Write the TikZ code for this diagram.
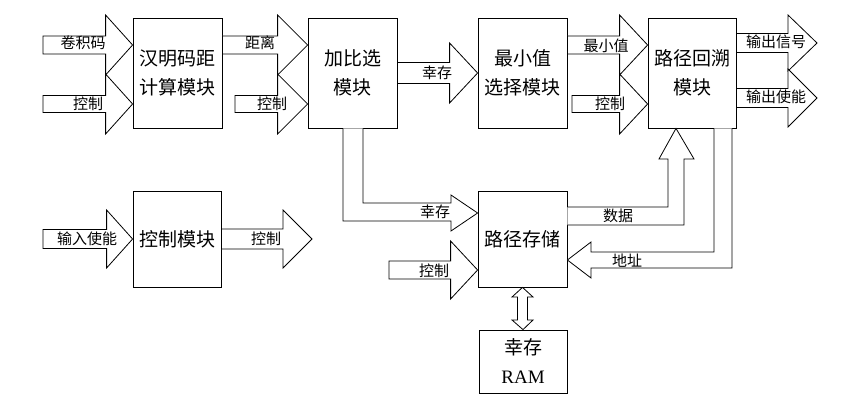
\documentclass[tikz,border=0pt]{standalone}
\usepackage{fontspec}
\setmainfont{Liberation Serif}
\newfontfamily\cjk{Noto Sans CJK SC}
\newfontfamily\latinserif{Liberation Serif}
\usetikzlibrary{calc}
\newcommand\rarr[5]{% #1 start, #2 tip, #3 body half, #4 head half, #5 head length
  \draw[barrow] let \p1=(#1), \p2=(#2) in
  (\x1,\y2+#3) -- (\x2-#5,\y2+#3) -- (\x2-#5,\y2+#4) -- (\x2,\y2) --
  (\x2-#5,\y2-#4) -- (\x2-#5,\y2-#3) -- (\x1,\y2-#3) -- cycle;}
\begin{document}
\begin{tikzpicture}[x=1pt,y=-1pt,
  box/.style={draw,line width=0.8pt,fill=white,font=\cjk\fontsize{19}{29}\selectfont,align=center,inner sep=0pt},
  barrow/.style={draw,line width=0.8pt,fill=white,line join=miter},
  lbl/.style={font=\cjk\fontsize{15}{15}\selectfont,inner sep=0pt}]
\useasboundingbox (0,0) rectangle (866,412);
\fill[white] (0,0) rectangle (866,412);

% boxes
\node[box,minimum width=89pt,minimum height=110pt] (hm)  at (177.5,73) {汉明码距\\计算模块};
\node[box,minimum width=89pt,minimum height=110pt] (acs) at (352.5,73) {加比选\\模块};
\node[box,minimum width=89pt,minimum height=110pt] (mv)  at (522.5,73) {最小值\\选择模块};
\node[box,minimum width=88pt,minimum height=110pt] (tb)  at (692,73)   {路径回溯\\模块};
\node[box,minimum width=88pt,minimum height=96pt]  (ctl) at (177,239)  {控制模块};
\node[box,minimum width=89pt,minimum height=96pt]  (ps)  at (522.5,239) {路径存储};
\node[box,minimum width=88pt,minimum height=63pt]  (ram) at (523,361.5) {幸存\\{\latinserif RAM}};

% free ends
\coordinate (s1) at (43,45);
\coordinate (s2) at (43,104);
\coordinate (s4) at (235,104);
\coordinate (s5) at (0,73);
\coordinate (s7) at (572,104);
\coordinate (o1) at (817,43);
\coordinate (o2) at (817,98);
\coordinate (s10) at (43,239);
\coordinate (o3) at (312,239);
\coordinate (s12) at (389,270);

% straight block arrows
\rarr{s1}{hm.west |- s1}{9pt}{30pt}{27pt}
\rarr{s2}{hm.west |- s2}{8.5pt}{30pt}{27pt}
\rarr{hm.east |- s1}{acs.west |- s1}{9pt}{30pt}{30pt}
\rarr{s4}{acs.west |- s4}{8.5pt}{30pt}{30pt}
\rarr{acs.east |- s5}{mv.west |- s5}{10.5pt}{30pt}{28pt}
\rarr{mv.east |- s1}{tb.west |- s1}{9pt}{30pt}{28pt}
\rarr{s7}{tb.west |- s7}{8.5pt}{30pt}{28pt}
\rarr{tb.east |- o1}{o1}{9.5pt}{28pt}{29pt}
\rarr{tb.east |- o2}{o2}{9.5pt}{29pt}{29pt}
\rarr{s10}{ctl.west |- s10}{9.5pt}{29pt}{26pt}
\rarr{ctl.east |- o3}{o3}{10pt}{29pt}{29pt}
\rarr{s12}{ps.west |- s12}{9pt}{29pt}{27pt}

% bent arrow from 加比选 to 路径存储
\draw[barrow] (acs.south -| 343,0) -- (343,221) -- (451,221) -- (451,231) -- (ps.west |- 0,213)
  -- (451,195) -- (451,203) -- (363,203) -- (acs.south -| 363,0);
% 数据 arrow
\draw[barrow] (ps.east |- 0,207) -- (668,207) -- (668,159) -- (659,159) -- (tb.south -| 676,0)
  -- (694,159) -- (684,159) -- (684,225) -- (ps.east |- 0,225);
% 地址 arrow
\draw[barrow] (tb.south -| 714,0) -- (714,252) -- (591,252) -- (591,242) -- (ps.east |- 0,260)
  -- (591,278) -- (591,268) -- (732,268) -- (tb.south -| 732,0);
% double arrow
\draw[barrow] (ps.south) -- (533,297) -- (527.5,297) -- (527.5,320) -- (533,320) -- (ram.north)
  -- (512,320) -- (517.5,320) -- (517.5,297) -- (512,297) -- cycle;

% labels
\node[lbl] (l1) at (83,43) {卷积码};
\node[lbl] (l2) at (88,104) {控制};
\node[lbl] (l3) at (260,43) {距离};
\node[lbl] (l4) at (272,104) {控制};
\node[lbl] (l5) at (437,73) {幸存};
\node[lbl] (l6) at (606,46) {最小值};
\node[lbl] (l7) at (610,104) {控制};
\node[lbl] (l8) at (776,42) {输出信号};
\node[lbl] (l9) at (776,97) {输出使能};
\node[lbl] (l10) at (87,239) {输入使能};
\node[lbl] (l11) at (266,239) {控制};
\node[lbl] (l12) at (434,271) {控制};
\node[lbl] (l13) at (435,212) {幸存};
\node[lbl] (l14) at (618,216) {数据};
\node[lbl] (l15) at (627,261) {地址};
\end{tikzpicture}
\end{document}
